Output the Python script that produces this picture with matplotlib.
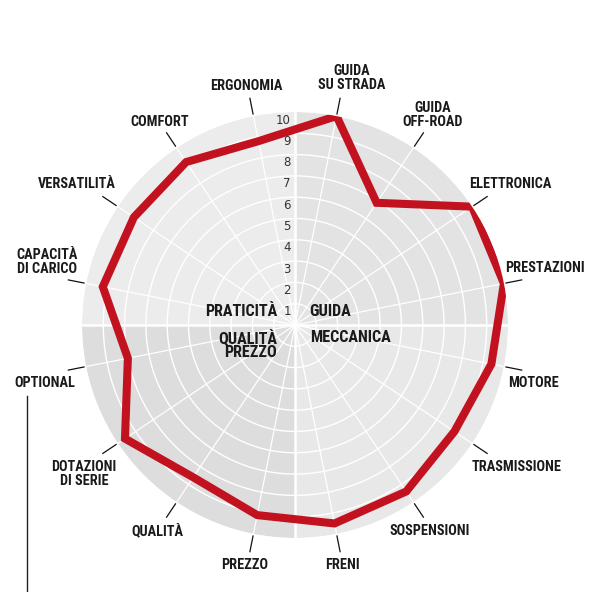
import numpy as np
import matplotlib
matplotlib.use("Agg")
import matplotlib.pyplot as plt
from matplotlib import font_manager
from matplotlib.lines import Line2D

# ---------------- data ----------------
categories = ["GUIDA\nSU STRADA", "GUIDA\nOFF-ROAD", "ELETTRONICA", "PRESTAZIONI",
              "MOTORE", "TRASMISSIONE", "SOSPENSIONI", "FRENI",
              "PREZZO", "QUALITÀ", "DOTAZIONI\nDI SERIE", "OPTIONAL",
              "CAPACITÀ\nDI CARICO", "VERSATILITÀ", "COMFORT", "ERGONOMIA"]
values = [10, 6.9, 10, 10, 9.4, 9.0, 9.4, 9.5, 9.1, 8.6, 9.6, 8.0, 9.2, 9.1, 9.2, 8.8]
ring_labels = ["1", "2", "3", "4", "5", "6", "7", "8", "9", "10"]
group_names = ["GUIDA", "MECCANICA", "QUALITÀ\nPREZZO", "PRATICITÀ"]

# label placement (pixel offsets from the end of each leader line)
label_offsets = [(12, 20), (9, 18), (23, 13), (23, 12), (12, -13), (29, -14),
                 (6, -14), (2, -13), (-5, -13), (-9, -14), (-19, -21), (-24, -13),
                 (-21, 18), (-26, 13), (-7, 11), (-4, 12)]

# ---------------- fonts ----------------
avail = {f.name for f in font_manager.fontManager.ttflist}
cond = None
for cand in ["Roboto Condensed", "Liberation Sans Narrow", "Open Sans Condensed",
             "Roboto", "Liberation Sans"]:
    if cand in avail:
        cond = cand
        break
bold_family = [cond, "DejaVu Sans"] if cond else ["DejaVu Sans"]

fig = plt.figure(figsize=(5.95, 5.92), dpi=100)
W, H = 595, 592
cx, cy, R = 295, 325, 213
ax = fig.add_axes([(cx - R) / W, (H - cy - R) / H, 2 * R / W, 2 * R / H], projection="polar")
ax.set_theta_zero_location("N")
ax.set_theta_direction(-1)
ax.set_ylim(0, 10)
ax.set_axis_off()

n = len(categories)
step = 2 * np.pi / n
angles = np.array([step / 2 + i * step for i in range(n)])

# quadrant backgrounds
quad_colors = ["#e3e3e3", "#e8e8e8", "#dddddd", "#ececec"]
for q, col in enumerate(quad_colors):
    ax.bar(q * np.pi / 2, 10, width=np.pi / 2, bottom=0, align="edge",
           color=col, edgecolor="none", zorder=0)

# rings
tt = np.linspace(0, 2 * np.pi, 400)
for k in range(1, 10):
    ax.plot(tt, np.full_like(tt, k), color="white", lw=1.0, zorder=1)
# spokes
for a in angles:
    ax.plot([a, a], [0, 10], color="white", lw=0.9, zorder=1)
# quadrant dividers
for a in [0, np.pi / 2, np.pi, 3 * np.pi / 2]:
    ax.plot([a, a], [0, 10], color="white", lw=1.8, zorder=2)

# data polygon
th = np.append(angles, angles[0])
vv = np.append(values, values[0])
ax.plot(th, vv, color="#c3121f", lw=5.8, solid_joinstyle="miter", zorder=5)

# ring number labels
for k, lab in enumerate(ring_labels, start=1):
    ax.annotate(lab, xy=(0, k), xytext=(-4, -8), textcoords="offset pixels",
                ha="right", va="center", fontsize=8.5, color="#333333",
                family=["DejaVu Sans"], zorder=6, annotation_clip=False)

# leader lines and category labels
for a, lab, off in zip(angles, categories, label_offsets):
    ax.plot([a, a], [10.1, 10.85], color="#111111", lw=0.9, clip_on=False, zorder=3)
    ax.annotate(lab, xy=(a, 10.85), xytext=off, textcoords="offset pixels",
                ha="center", va="center", fontsize=10.3, fontweight="bold",
                family=bold_family, color="#1a1a1a", linespacing=1.0,
                annotation_clip=False)

# group labels in the centre
kw = dict(textcoords="offset pixels", fontsize=11.6, fontweight="bold",
          family=bold_family, color="#1a1a1a", zorder=6)
ax.annotate(group_names[0], xy=(0, 0), xytext=(14, 13), ha="left", va="center", **kw)
ax.annotate(group_names[1], xy=(0, 0), xytext=(15, -13), ha="left", va="center", **kw)
ax.annotate(group_names[2], xy=(0, 0), xytext=(-18, -20), ha="right", va="center",
            linespacing=0.9, multialignment="right", **kw)
ax.annotate(group_names[3], xy=(0, 0), xytext=(-18, 13), ha="right", va="center", **kw)

# decorative vertical rule at lower left
fig.add_artist(Line2D([27 / W, 27 / W], [0, (H - 396) / H], color="#222222", lw=1.0))

fig.savefig("out.png", dpi=100)
